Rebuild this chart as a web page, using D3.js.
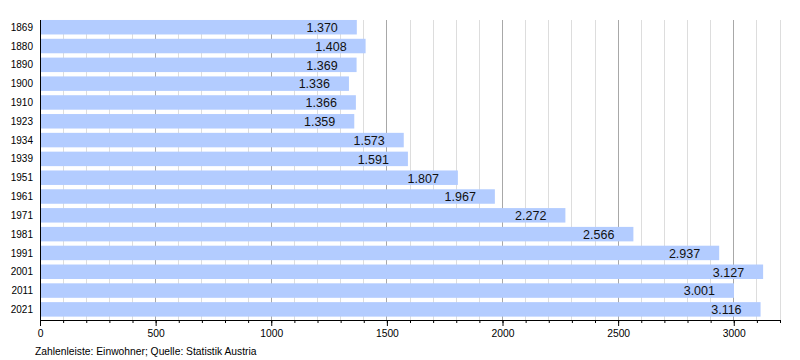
<!DOCTYPE html>
<html>
<head>
<meta charset="utf-8">
<script src="https://cdn.jsdelivr.net/npm/d3@7"></script>
<style>
  html, body { margin: 0; padding: 0; background: #fff; }
  svg { display: block; font-family: "Liberation Sans", Arial, Helvetica, sans-serif; }
</style>
</head>
<body>
<svg id="chart" width="800" height="360"></svg>
<script>
const years = ["1869","1880","1890","1900","1910","1923","1934","1939","1951","1961","1971","1981","1991","2001","2011","2021"];
const population = [1370,1408,1369,1336,1366,1359,1573,1591,1807,1967,2272,2566,2937,3127,3001,3116];
const majorTicks = [0,500,1000,1500,2000,2500,3000];
const caption = "Zahlenleiste: Einwohner; Quelle: Statistik Austria";

const svg = d3.select("#chart");
const x = d3.scaleLinear().domain([0, 3200]).range([40, 780]);
const y = d3.scaleBand().domain(years).range([17.3, 319.3]).paddingInner(0.23).paddingOuter(0.1425);
const axisY = 320, topY = 20;

const minorTicks = d3.range(0, 3201, 100);

// gridlines
svg.append("g").selectAll("line").data(minorTicks.filter(d => d > 0)).join("line")
  .attr("x1", d => x(d)).attr("x2", d => x(d))
  .attr("y1", topY).attr("y2", axisY)
  .attr("stroke", d => d % 500 === 0 ? "#a8a8a8" : "#dddddd")
  .attr("stroke-width", 1)
  .attr("shape-rendering", "crispEdges");

// bars
svg.append("g").selectAll("rect").data(population).join("rect")
  .attr("x", x(0))
  .attr("y", (d, i) => y(years[i]))
  .attr("width", d => x(d) - x(0))
  .attr("height", y.bandwidth())
  .attr("fill", "#b3ccff");

// value labels
const fmt = d => d3.format(",")(d).replace(/,/g, ".");
svg.append("g").selectAll("text").data(population).join("text")
  .attr("x", d => x(d) - 19)
  .attr("y", (d, i) => y(years[i]) + y.bandwidth() / 2 + 4.8)
  .attr("text-anchor", "end")
  .attr("font-size", "12.5px")
  .attr("fill", "#111")
  .text(fmt);

// year labels
svg.append("g").selectAll("text").data(years).join("text")
  .attr("x", 33)
  .attr("y", d => y(d) + y.bandwidth() / 2 + 3.6)
  .attr("text-anchor", "end")
  .attr("font-size", "10px")
  .attr("fill", "#000")
  .text(d => d);

// x axis
const axis = svg.append("g").attr("transform", `translate(0,${axisY})`);
axis.append("g").call(d3.axisBottom(x).tickValues(minorTicks).tickSize(3).tickFormat(""))
  .call(g => g.select(".domain").remove());
axis.append("g").call(d3.axisBottom(x).tickValues(majorTicks).tickSize(6).tickPadding(4)
    .tickFormat(d3.format("d")))
  .call(g => g.select(".domain").remove())
  .call(g => g.selectAll("text").attr("font-size", "10.3px").attr("fill", "#000")
      .attr("font-family", "'Liberation Sans', Arial, sans-serif"));
axis.append("line").attr("x1", x(0)).attr("x2", x(3200)).attr("y1", 0).attr("y2", 0)
  .attr("stroke", "#000").attr("shape-rendering", "crispEdges");

// left axis line
svg.append("line").attr("x1", x(0)).attr("x2", x(0)).attr("y1", topY).attr("y2", axisY)
  .attr("stroke", "#000").attr("shape-rendering", "crispEdges");

// caption
svg.append("text").attr("x", 35).attr("y", 354.5)
  .attr("font-size", "10.3px").attr("fill", "#000").text(caption);
</script>
</body>
</html>
